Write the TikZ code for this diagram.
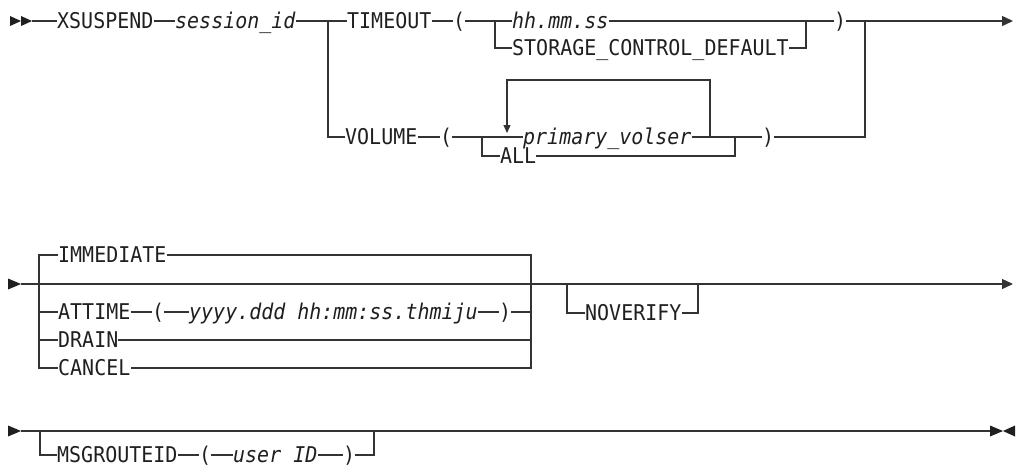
\documentclass[tikz,border=0pt]{standalone}
\usepackage{fontspec}
\setmainfont[FakeStretch=0.92]{DejaVu Sans Mono}
\usetikzlibrary{arrows.meta}
\begin{document}
\begin{tikzpicture}[x=1pt,y=-1pt]
\tikzset{
  ln/.style={line width=1.3pt, draw=black!80, line join=miter},
  kw/.style={inner sep=0pt, anchor=west, text height=15.8pt, text depth=0pt,
             font=\fontsize{21.7}{26}\selectfont, text=black!88},
  vr/.style={kw, font=\fontsize{21.7}{26}\selectfont\itshape},
  tip/.style={-{Triangle[length=11pt,width=10pt]}},
  looptip/.style={-{Triangle[length=8pt,width=7pt]}},
  head/.style={fill=black!88},
}
\useasboundingbox (0,0) rectangle (1016,469);

% ---------- Row 1 ----------
\fill[head] (10,16) -- (21,21) -- (10,26) -- cycle;
\fill[head] (21,16) -- (32,21) -- (21,26) -- cycle;
\coordinate (s1) at (32,21);
\coordinate (j1) at (328,21);
\coordinate (j2) at (495,21);
\coordinate (j3) at (806,21);
\coordinate (j4) at (865,21);
\coordinate (e1) at (1013,21);

\node[kw] (xs)  at (57,21)  {XSUSPEND};
\node[vr] (sid) at (175,21) {session\char95 id};
\node[kw] (to)  at (347,21) {TIMEOUT};
\node[kw] (lp1) at (453,21) {(};
\node[vr] (hh)  at (512,21) {hh.mm.ss};
\node[kw] (scd) at (512,48) {STORAGE\char95 CONTROL\char95 DEFAULT};
\node[kw] (rp1) at (834,21) {)};

\draw[ln] (s1) -- (xs.west);
\draw[ln] (xs.east) -- (sid.west);
\draw[ln] (sid.east) -- (to.west);
\draw[ln] (to.east) -- (lp1.west);
\draw[ln] (lp1.east) -- (hh.west);
\draw[ln] (hh.east) -- (rp1.west);
\draw[ln] (j2) |- (scd.west);
\draw[ln] (scd.east) -| (j3);
\draw[ln,tip] (rp1.east) -- (e1);

% VOLUME row
\coordinate (j5) at (482,137);
\coordinate (j6) at (735,137);
\coordinate (lr) at (710,137);
\coordinate (ltop) at (507,80);
\coordinate (ltip) at (507,133);

\node[kw] (vol) at (345,137) {VOLUME};
\node[kw] (lp2) at (440,137) {(};
\node[vr] (pv)  at (523,137) {primary\char95 volser};
\node[kw] (all) at (500,156) {ALL};
\node[kw] (rp2) at (762,137) {)};

\draw[ln] (j1) |- (vol.west);
\draw[ln] (vol.east) -- (lp2.west);
\draw[ln] (lp2.east) -- (pv.west);
\draw[ln] (pv.east) -- (rp2.west);
\draw[ln] (j5) |- (all.west);
\draw[ln] (all.east) -| (j6);
\draw[ln] (rp2.east) -| (j4);
\draw[ln,looptip] (lr) |- (ltop) -- (ltip);

% ---------- Row 2 ----------
\fill[head] (8,278.5) -- (21,284) -- (8,289.5) -- cycle;
\coordinate (s2) at (21,284);
\coordinate (j7) at (39,284);
\coordinate (j8) at (531,284);
\coordinate (j9) at (567,284);
\coordinate (j10) at (698,284);
\coordinate (e2) at (1013,284);

\node[kw] (imm) at (58,255)  {IMMEDIATE};
\node[kw] (att) at (58,312)  {ATTIME};
\node[kw] (lp3) at (152,312) {(};
\node[vr] (dt)  at (189,312) {yyyy.ddd hh:mm:ss.thmiju};
\node[kw] (rp3) at (499,312) {)};
\node[kw] (drn) at (58,340)  {DRAIN};
\node[kw] (cnc) at (58,368)  {CANCEL};
\node[kw] (nov) at (585,313) {NOVERIFY};

\draw[ln,tip] (s2) -- (e2);
\draw[ln] (imm.west) -| (j7) |- (cnc.west);
\draw[ln] (j7 |- att.west) -- (att.west);
\draw[ln] (j7 |- drn.west) -- (drn.west);
\draw[ln] (imm.east) -| (j8) |- (cnc.east);
\draw[ln] (att.east) -- (lp3.west);
\draw[ln] (lp3.east) -- (dt.west);
\draw[ln] (dt.east) -- (rp3.west);
\draw[ln] (rp3.east) -- (j8 |- rp3.east);
\draw[ln] (drn.east) -- (j8 |- drn.east);
\draw[ln] (j9) |- (nov.west);
\draw[ln] (nov.east) -| (j10);

% ---------- Row 3 ----------
\fill[head] (8,425.5) -- (21,431) -- (8,436.5) -- cycle;
\coordinate (s3) at (21,431);
\coordinate (j11) at (40,431);
\coordinate (j12) at (374,431);
\coordinate (e3) at (990,431);

\node[kw] (msg) at (57,455)  {MSGROUTEID};
\node[kw] (lp4) at (199,455) {(};
\node[vr] (uid) at (233,455) {user ID};
\node[kw] (rp4) at (343,455) {)};

\draw[ln] (s3) -- (e3);
\draw[ln, line width=2.6pt] (380,431) -- (404,431);
\draw[ln] (j11) |- (msg.west);
\draw[ln] (msg.east) -- (lp4.west);
\draw[ln] (lp4.east) -- (uid.west);
\draw[ln] (uid.east) -- (rp4.west);
\draw[ln] (rp4.east) -| (j12);
\fill[head] (990,425.5) -- (1003,431) -- (990,436.5) -- cycle;
\fill[head] (1015,425.5) -- (1003,431) -- (1015,436.5) -- cycle;
\end{tikzpicture}
\end{document}
